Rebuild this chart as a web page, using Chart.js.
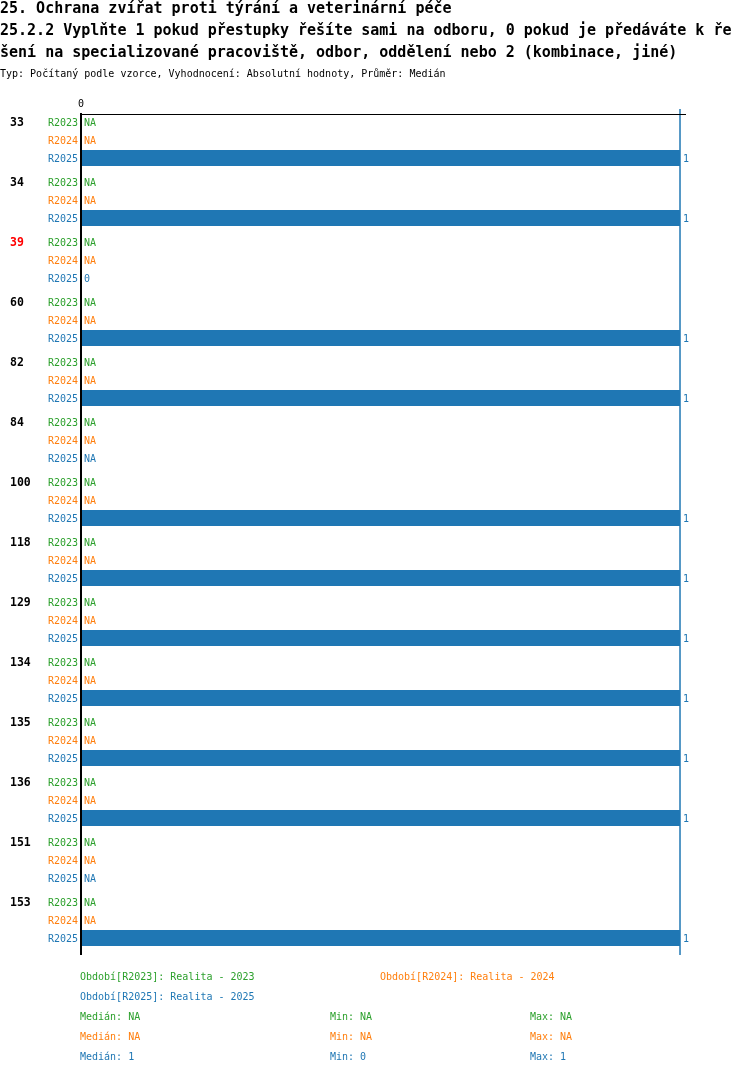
<!DOCTYPE html>
<html lang="cs">
<head>
<meta charset="utf-8">
<title>25.2.2 Ochrana zvířat</title>
<script src="https://cdn.jsdelivr.net/npm/chart.js@4.4.1/dist/chart.umd.min.js"></script>
<style>
    html, body { margin: 0; padding: 0; background: #fff; }
    canvas { display: block; }
</style>
</head>
<body>
<canvas id="chart" width="750" height="1074"></canvas>
<script>
const titleLines = [
    "25. Ochrana zvířat proti týrání a veterinární péče",
    "25.2.2 Vyplňte 1 pokud přestupky řešíte sami na odboru, 0 pokud je předáváte k ře",
    "šení na specializované pracoviště, odbor, oddělení nebo 2 (kombinace, jiné)"
];
const subtitle = "Typ: Počítaný podle vzorce, Vyhodnocení: Absolutní hodnoty, Průměr: Medián";

const categories = ["33", "34", "39", "60", "82", "84", "100", "118", "129", "134", "135", "136", "151", "153"];
const highlighted = ["39"];

const periods = ["R2023", "R2024", "R2025"];
const periodNames = ["Realita - 2023", "Realita - 2024", "Realita - 2025"];
const periodColors = ["#2ca02c", "#ff7f0e", "#1f77b4"];

const r2023 = [null, null, null, null, null, null, null, null, null, null, null, null, null, null];
const r2024 = [null, null, null, null, null, null, null, null, null, null, null, null, null, null];
const r2025 = [1, 1, 0, 1, 1, null, 1, 1, 1, 1, 1, 1, null, 1];
const seriesValues = [r2023, r2024, r2025];

const xTicks = [0];

const MONO = '"DejaVu Sans Mono", "Liberation Mono", monospace';
const TEXT_DY = 1.5; // canvas "middle" sits a bit high for this font

function fmt(v) {
    return (v === null || v === undefined || Number.isNaN(v)) ? "NA" : String(v);
}

function stats(values) {
    const vals = values.filter(v => v !== null).sort((a, b) => a - b);
    if (!vals.length) return { median: null, min: null, max: null };
    const m = Math.floor(vals.length / 2);
    const median = vals.length % 2 ? vals[m] : (vals[m - 1] + vals[m]) / 2;
    return { median, min: vals[0], max: vals[vals.length - 1] };
}

// header, row labels, axes lines, median lines and the legend block
const decorations = {
    id: "decorations",
    afterDatasetsDraw(chart) {
        const { ctx, chartArea, scales } = chart;
        ctx.save();

        // header
        ctx.fillStyle = "#000";
        ctx.textAlign = "left";
        ctx.textBaseline = "middle";
        ctx.font = "bold 15px " + MONO;
        titleLines.forEach((line, i) => ctx.fillText(line, 0, 9.5 + i * 22));
        ctx.font = "10px " + MONO;
        ctx.fillText(subtitle, 0, 73 + TEXT_DY);

        // series labels left of the axis, values (or NA) right of it
        ctx.font = "10px " + MONO;
        seriesValues.forEach((values, d) => {
            const meta = chart.getDatasetMeta(d);
            ctx.fillStyle = periodColors[d];
            values.forEach((v, i) => {
                const y = meta.data[i].y + TEXT_DY;
                ctx.textAlign = "right";
                ctx.fillText(periods[d], chartArea.left - 3, y);
                ctx.textAlign = "left";
                if (v === null) {
                    ctx.fillText("NA", chartArea.left + 3, y);
                } else {
                    ctx.fillText(fmt(v), scales.x.getPixelForValue(v) + 3, y);
                }
            });
        });

        // median lines
        seriesValues.forEach((values, d) => {
            const s = stats(values);
            if (s.median === null) return;
            const x = scales.x.getPixelForValue(s.median);
            ctx.strokeStyle = periodColors[d];
            ctx.lineWidth = 1.5;
            ctx.beginPath();
            ctx.moveTo(x, chartArea.top - 1);
            ctx.lineTo(x, chartArea.bottom + 5);
            ctx.stroke();
        });

        // axis lines
        ctx.strokeStyle = "#000";
        ctx.lineWidth = 1;
        ctx.beginPath();
        ctx.moveTo(chartArea.left - 1, chartArea.top + 4.5);
        ctx.lineTo(chartArea.right, chartArea.top + 4.5);
        ctx.stroke();
        ctx.lineWidth = 2;
        ctx.beginPath();
        ctx.moveTo(chartArea.left, chartArea.top + 3);
        ctx.lineTo(chartArea.left, chartArea.bottom + 5);
        ctx.stroke();

        // legend
        ctx.font = "10px " + MONO;
        ctx.textAlign = "left";
        const legendPos = [[80, 976], [380, 976], [80, 996]];
        periods.forEach((p, d) => {
            ctx.fillStyle = periodColors[d];
            ctx.fillText("Období[" + p + "]: " + periodNames[d], legendPos[d][0], legendPos[d][1] + TEXT_DY);
        });
        seriesValues.forEach((values, d) => {
            const s = stats(values);
            const y = 1016 + d * 20 + TEXT_DY;
            ctx.fillStyle = periodColors[d];
            ctx.fillText("Medián: " + fmt(s.median), 80, y);
            ctx.fillText("Min: " + fmt(s.min), 330, y);
            ctx.fillText("Max: " + fmt(s.max), 530, y);
        });

        ctx.restore();
    }
};

const ctx = document.getElementById("chart").getContext("2d");

const chart = new Chart(ctx, {
    type: "bar",
    data: {
        labels: categories,
        datasets: periods.map((p, d) => ({
            label: p,
            data: seriesValues[d],
            backgroundColor: periodColors[d],
            borderWidth: 0,
            categoryPercentage: 0.9,
            barPercentage: 16 / 18
        }))
    },
    options: {
        indexAxis: "y",
        responsive: false,
        animation: false,
        layout: {
            padding: { left: 10, right: 64, top: 90, bottom: 124 }
        },
        plugins: {
            legend: { display: false },
            tooltip: { enabled: false },
            title: { display: false }
        },
        scales: {
            x: {
                position: "top",
                min: 0,
                max: 1.01,
                afterBuildTicks: (scale) => { scale.ticks = xTicks.map(v => ({ value: v })); },
                afterFit: (scale) => { scale.height = 20; },
                grid: { display: false, drawTicks: false },
                border: { display: false },
                ticks: {
                    padding: 0,
                    color: "#000",
                    font: { family: MONO, size: 10 },
                    callback: (v) => String(v)
                }
            },
            y: {
                afterFit: (scale) => { scale.width = 71; },
                grid: { display: false, drawTicks: false },
                border: { display: false },
                ticks: {
                    autoSkip: false,
                    crossAlign: "far",
                    labelOffset: -16.5,
                    color: (c) => highlighted.includes(categories[c.index]) ? "#ff0000" : "#000",
                    font: { family: MONO, size: 11.5, weight: "bold" }
                }
            }
        }
    },
    plugins: [decorations]
});
</script>
</body>
</html>
